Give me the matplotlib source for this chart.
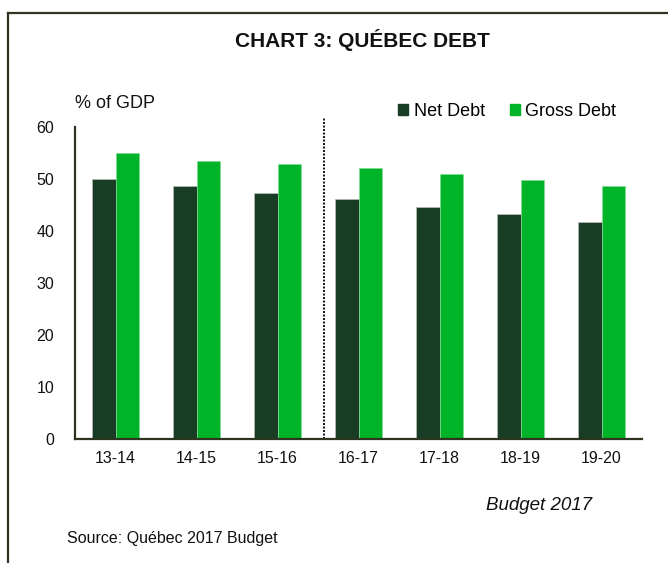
import matplotlib
matplotlib.use("Agg")
import matplotlib.pyplot as plt
from matplotlib.patches import Patch
import numpy as np

plt.rcParams['font.family'] = ['Liberation Sans', 'DejaVu Sans']

categories = ["13-14", "14-15", "15-16", "16-17", "17-18", "18-19", "19-20"]
net_debt = [50.0, 48.6, 47.2, 46.0, 44.6, 43.3, 41.7]
gross_debt = [54.9, 53.4, 52.8, 52.0, 51.0, 49.8, 48.5]
yticks = [0, 10, 20, 30, 40, 50, 60]

net_color = "#183d24"
gross_color = "#00b42a"
frame_color = "#2d3520"

W, H = 668, 563
fig = plt.figure(figsize=(W / 100, H / 100), dpi=100)

# outer frame (top and left lines)
fig.add_artist(plt.Line2D([8 / W, 8 / W], [0, 1 - 13 / H], transform=fig.transFigure,
                          color=frame_color, lw=1.6))
fig.add_artist(plt.Line2D([8 / W, 1], [1 - 13 / H, 1 - 13 / H], transform=fig.transFigure,
                          color=frame_color, lw=1.6))

ax = fig.add_axes([75 / W, 1 - 438.7 / H, 567 / W, 312 / H])
x = np.arange(len(categories))
bw = 0.285
ax.bar(x - bw / 2, net_debt, bw, color=net_color, edgecolor="#b8bdb8", linewidth=0.5, label="Net Debt")
ax.bar(x + bw / 2, gross_debt, bw, color=gross_color, edgecolor="#7fdc8f", linewidth=0.5, label="Gross Debt")

ax.set_xlim(-0.5, len(categories) - 0.5)
ax.set_ylim(0, 60)
ax.set_yticks(yticks)
ax.set_xticks(x)
ax.set_xticklabels(categories)
ax.tick_params(axis='both', length=0, labelsize=11.5, colors="#111111")
ax.tick_params(axis='y', pad=15)
ax.tick_params(axis='x', pad=9)
for s in ["top", "right"]:
    ax.spines[s].set_visible(False)
for s in ["left", "bottom"]:
    ax.spines[s].set_color(frame_color)
    ax.spines[s].set_linewidth(1.6)

# dotted separator between actual and forecast
ax.plot([2.57, 2.57], [0, 61.8], ls=(0, (1, 0.8)), color="#111111", lw=1.4, clip_on=False)

handles = [Patch(color=net_color), Patch(color=gross_color)]
fig.legend(handles, ["Net Debt", "Gross Debt"], loc="center left",
           bbox_to_anchor=(382 / W, 1 - 111 / H), ncol=2, frameon=False,
           fontsize=13, handlelength=0.55, handleheight=0.55, handletextpad=0.3,
           columnspacing=1.4)

fig.text(362 / W, 1 - 40 / H, "CHART 3: QUÉBEC DEBT", ha="center", va="center",
         fontsize=15, fontweight="bold", color="#111111")
fig.text(75 / W, 1 - 103 / H, "% of GDP", ha="left", va="center", fontsize=13, color="#111111")
fig.text(592 / W, 1 - 506 / H, "Budget 2017", ha="right", va="center", fontsize=13.5,
         fontstyle="italic", color="#111111")
fig.text(67 / W, 1 - 538 / H, "Source: Québec 2017 Budget", ha="left", va="center",
         fontsize=11.5, color="#111111")

fig.savefig("out.png", dpi=100)
